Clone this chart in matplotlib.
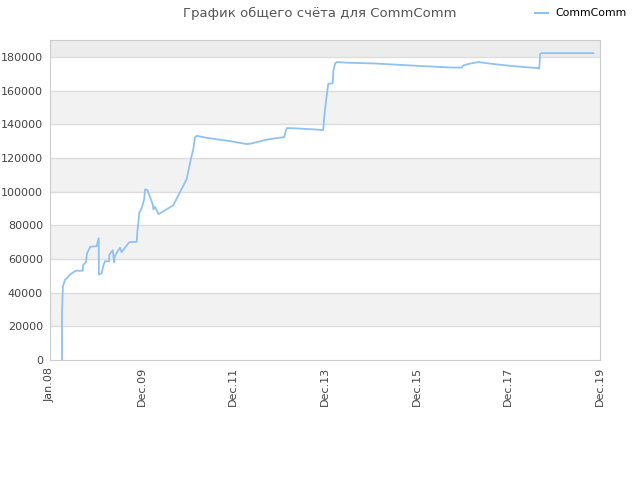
import matplotlib
matplotlib.use('Agg')
import matplotlib.pyplot as plt
import numpy as np

# decimal years
years = [2008.26, 2008.26, 2008.26, 2008.275, 2008.28, 2008.325, 2008.37, 2008.43,
         2008.50, 2008.56, 2008.71, 2008.72, 2008.78, 2008.80, 2008.87, 2009.01,
         2009.055, 2009.06, 2009.12, 2009.155, 2009.19, 2009.28, 2009.285, 2009.36,
         2009.39, 2009.40, 2009.48, 2009.52, 2009.55, 2009.65, 2009.72, 2009.88,
         2009.89, 2009.91, 2009.935, 2009.99, 2010.04, 2010.06, 2010.11, 2010.225,
         2010.24, 2010.275, 2010.35, 2010.67, 2010.96, 2011.055, 2011.105, 2011.14,
         2011.18, 2011.395, 2011.68, 2011.94, 2012.26, 2012.37, 2012.695, 2012.945,
         2013.075, 2013.10, 2013.13, 2013.345, 2013.74, 2013.92, 2013.935, 2013.96,
         2013.995, 2014.03, 2014.125, 2014.14, 2014.175, 2014.21, 2014.46, 2015.005,
         2016.08, 2016.665, 2016.92, 2016.955, 2017.10, 2017.28, 2017.68, 2018.11,
         2018.58, 2018.60, 2018.62, 2018.65, 2019.77]
score = [0, 21900, 28800, 39800, 43700, 47700, 48600, 50700,
         52000, 53000, 53000, 56600, 58000, 63200, 67200, 67600,
         72300, 50700, 51600, 56000, 58600, 58600, 62600, 65200,
         58000, 61300, 65200, 66600, 64000, 67600, 70000, 70200,
         75500, 80500, 87400, 90400, 95400, 101300, 100900, 92400,
         89400, 91000, 86600, 91800, 107300, 119600, 125200, 132100,
         133100, 131900, 130800, 129800, 128200, 128600, 130800, 131900,
         132300, 135100, 137700, 137500, 136900, 136500, 142100, 149000,
         157000, 164000, 164300, 171800, 175900, 176900, 176500, 176100,
         174500, 173700, 173600, 174900, 176000, 176900, 175500, 174300,
         173300, 172900, 181800, 182200, 182200]

tick_labels = ['Jan.08', 'Dec.09', 'Dec.11', 'Dec.13', 'Dec.15', 'Dec.17', 'Dec.19']
x0, x1 = 2008.0, 2019.917
y_ticks = np.arange(0, 180001, 20000)

fig = plt.figure(figsize=(6.4, 4.8), dpi=100)
ax = fig.add_axes([50/640, 1-360/480, 550/640, 320/480])
ax.set_xlim(x0, x1)
ax.set_ylim(0, 190000)

# alternating bands
for i, lo in enumerate(y_ticks):
    hi = min(lo + 20000, 190000)
    if lo == 180000:
        ax.axhspan(lo, hi, color='#ececec', zorder=0, lw=0)
    elif i % 2 == 1:
        ax.axhspan(lo, hi, color='#f2f2f2', zorder=0, lw=0)
for v in y_ticks[1:]:
    ax.axhline(v, color='#dddddd', lw=1, zorder=1)

ax.plot(years, score, color='#8fc2f2', lw=1.3, zorder=3)

ax.set_yticks(y_ticks)
ax.set_yticklabels([str(v) for v in y_ticks])
ax.set_xticks(np.linspace(x0, x1, 7))
ax.set_xticklabels(tick_labels, rotation=90)
ax.tick_params(length=0, labelsize=8, colors='#444444', pad=5)
for s in ax.spines.values():
    s.set_color('#cccccc')

fig.text(0.5, 1-13/480, 'График общего счёта для CommComm', ha='center', va='center',
         fontsize=9.5, color='#555555')
fig.add_artist(plt.Line2D([535/640, 548/640], [1-13/480, 1-13/480], color='#8fc2f2', lw=1.5))
fig.text(555/640, 1-13/480, 'CommComm', ha='left', va='center', fontsize=7.8, color='black')

fig.savefig('out.png', dpi=100)
